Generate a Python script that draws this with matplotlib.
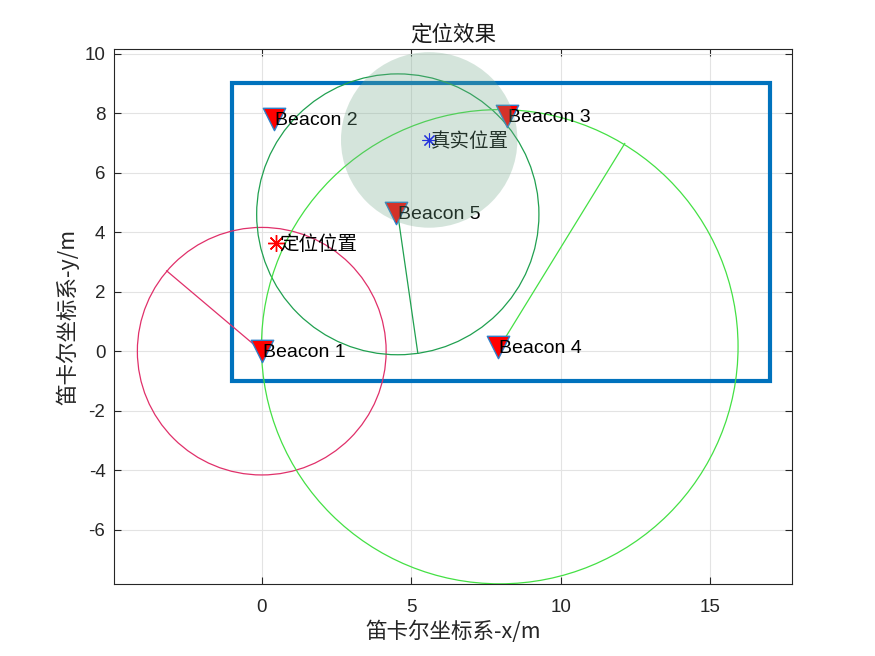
import matplotlib
matplotlib.use("Agg")
import matplotlib.pyplot as plt
import numpy as np
from matplotlib.patches import Circle, Rectangle

plt.rcParams["font.family"] = ["Liberation Sans", "Noto Sans CJK SC", "DejaVu Sans"]
plt.rcParams["axes.unicode_minus"] = False

# beacon positions and labels
beacon_names = ["Beacon 1", "Beacon 2", "Beacon 3", "Beacon 4", "Beacon 5"]
beacon_x = [0.0, 0.4, 8.2, 7.9, 4.5]
beacon_y = [0.0, 7.8, 7.9, 0.15, 4.65]

# ranging circles: centre, radius, end point of the radius line, colour
ring_center_x = [0.0, 4.55, 7.96]
ring_center_y = [0.0, 4.6, 0.15]
ring_radius = [4.16, 4.72, 7.97]
ring_end_x = [-3.18, 5.22, 12.14]
ring_end_y = [2.70, -0.07, 6.98]
ring_colors = ["#e0306a", "#20a050", "#44e044"]

# room boundary
room_x = [-1, 17]
room_y = [-1, 9]

# estimated and true positions
est_pos = (0.47, 3.65)
true_pos = (5.6, 7.1)
true_radius = 2.95

cjk = ["Noto Sans CJK SC", "DejaVu Sans"]
asterisk = (8, 2, 0)

fig = plt.figure(figsize=(8.75, 6.56), dpi=100)
ax = fig.add_axes([0.13, 0.11, 0.775, 0.815])

ax.grid(True, color="#e3e3e3", lw=0.8)
ax.set_axisbelow(True)

ax.add_patch(Rectangle((room_x[0], room_y[0]), room_x[1] - room_x[0], room_y[1] - room_y[0],
                       fill=False, ec="#0072bd", lw=3, zorder=2))

for cx, cy, r, ex, ey, c in zip(ring_center_x, ring_center_y, ring_radius, ring_end_x, ring_end_y, ring_colors):
    ax.add_patch(Circle((cx, cy), r, fill=False, ec=c, lw=0.9, zorder=3))
    ax.plot([cx, ex], [cy, ey], c=c, lw=0.9, zorder=3)

ax.scatter(beacon_x, beacon_y, marker="v", s=260, c="red", edgecolors="#2f7fc8", linewidths=1, zorder=4)
for name, bx, by in zip(beacon_names, beacon_x, beacon_y):
    ax.text(bx + 0.05, by - 0.05, name, fontsize=14, va="center", ha="left", zorder=5)

ax.plot(*est_pos, marker=asterisk, c="red", ms=12, mew=1, ls="none", zorder=5)
ax.text(est_pos[0] + 0.1, est_pos[1] - 0.05, "定位位置", fontsize=14, va="center", ha="left",
        family=cjk, zorder=5)
ax.plot(*true_pos, marker=asterisk, c="blue", ms=10, mew=0.8, ls="none", zorder=5)
ax.text(true_pos[0] + 0.05, true_pos[1] - 0.05, "真实位置", fontsize=14, va="center", ha="left",
        family=cjk, zorder=5)

ax.add_patch(Circle(true_pos, true_radius, fc=(0.45, 0.66, 0.54), ec="none", alpha=0.3, zorder=6))

ax.set_xlim(-4.95, 17.73)
ax.set_ylim(-7.82, 10.15)
ax.set_xticks([0, 5, 10, 15])
ax.set_yticks(np.arange(-6, 11, 2))
ax.tick_params(direction="in", top=True, right=True, labelsize=13.5, length=5, color="#262626",
               labelcolor="#262626", pad=6)
ax.tick_params(axis="x", pad=11)
for s in ax.spines.values():
    s.set_color("#262626")
    s.set_linewidth(0.8)

ax.set_title("定位效果", fontsize=15.5, family=cjk, color="#1a1a1a", pad=6)
ax.set_xlabel("笛卡尔坐标系-x/m", fontsize=15.5, family=cjk, color="#262626", labelpad=3)
ax.set_ylabel("笛卡尔坐标系-y/m", fontsize=15.5, family=cjk, color="#262626")

fig.savefig("out.png", dpi=100)
